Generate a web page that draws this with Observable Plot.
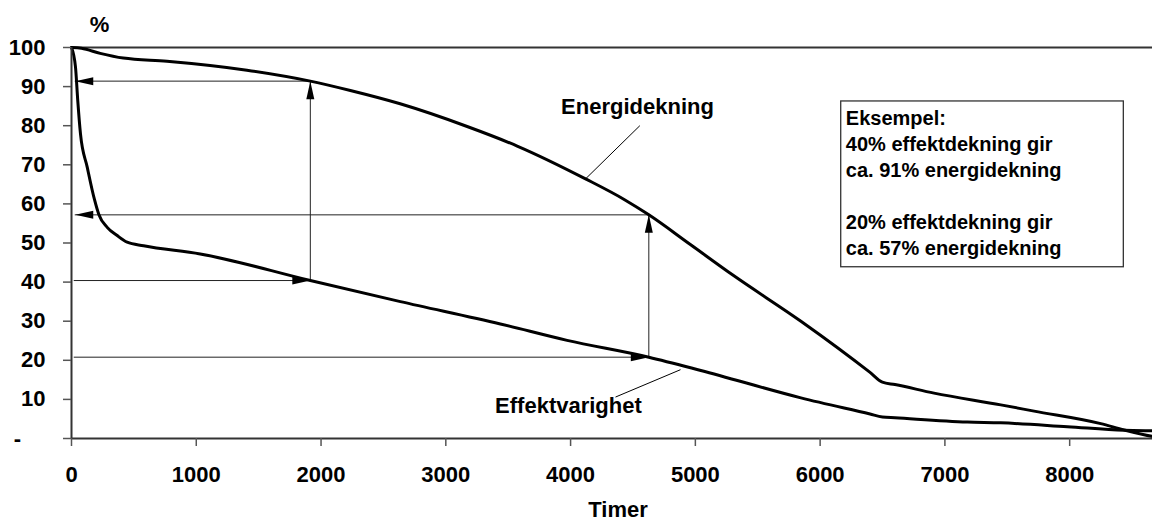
<!DOCTYPE html>
<html><head><meta charset="utf-8">
<script src="https://cdn.jsdelivr.net/npm/d3@7"></script>
<script src="https://cdn.jsdelivr.net/npm/@observablehq/plot@0.6"></script>
<style>
html,body{margin:0;padding:0;overflow:hidden;background:#fff;}
#chart svg{max-width:none !important;height:521px !important;width:1176px !important;}
g[aria-label="x-axis tick"] path, g[aria-label="y-axis tick"] path{stroke:#555;stroke-width:1.5px;}
</style></head><body><div id="chart"></div>
<script>
// Energidekning (energy coverage) curve
const energiTimer = [0, 80, 230, 415, 765, 1406, 1914, 2235, 2634, 3171, 3572, 4120, 4426, 4627, 4960, 5309, 5846, 6400, 6499, 6600, 6913, 7448, 7715, 8249, 8436, 8667, 8760];
const energiPct   = [100, 99.8, 98.5, 97.3, 96.5, 94.2, 91.4, 89.0, 85.6, 79.8, 74.8, 66.4, 61.2, 57.2, 49.6, 41.6, 30.0, 16.9, 14.4, 13.8, 11.6, 8.6, 7.0, 3.8, 2.2, 0.5, 0];
// Effektvarighet (load duration) curve
const effektTimer = [0, 32, 50, 72, 126, 185, 219, 286, 366, 446, 578, 1032, 1914, 2636, 3437, 3972, 4627, 5044, 5846, 6400, 6499, 6600, 7180, 7447, 7982, 8436, 8667, 8760];
const effektPct   = [100, 95, 86.5, 77.9, 69.4, 61, 57.3, 54.0, 51.9, 50.2, 49.3, 47.2, 40.4, 35.0, 29.3, 25.1, 20.8, 17.4, 10.4, 6.25, 5.5, 5.3, 4.2, 4.0, 3.0, 2.1, 1.95, 1.9];

// Example readings (arrows)
const exTimer  = [1914, 4627];
const exEffekt = [40.4, 20.8];
const exEnergi = [91.4, 57.2];
const arrowStart = 22;   // where the rightward arrows leave the axis (hours)
const arrowTip = 30;     // where the leftward arrows end (hours)

// Tick labels
const xTicks = [0, 1000, 2000, 3000, 4000, 5000, 6000, 7000, 8000];
const yTicks = [0, 10, 20, 30, 40, 50, 60, 70, 80, 90, 100];

// Annotation texts
const curveLabels = ["Energidekning", "Effektvarighet"];
const curveLabelX = [4536, 3983];
const curveLabelY = [84.9, 8.2];
const leaderFromX = [4555, 4360], leaderFromY = [80.0, 10.6];
const leaderToX   = [4120, 4881], leaderToY   = [66.4, 17.6];
const boxLines = ["Eksempel:", "40% effektdekning gir", "ca. 91% energidekning", "", "20% effektdekning gir", "ca. 57% energidekning"];
const boxX = [6169, 8434], boxY = [43.8, 86.2];
const boxTextX = 6206, boxTextY = 84.8;

const energi = energiTimer.map((t, i) => ({timer: t, pct: energiPct[i]}));
const effekt = effektTimer.map((t, i) => ({timer: t, pct: effektPct[i]}));

const hRules = [];
const vRules = [];
const heads = [];
exTimer.forEach((t, i) => {
  hRules.push({x1: arrowStart, x2: t, y: exEffekt[i]});
  hRules.push({x1: arrowTip, x2: t, y: exEnergi[i]});
  vRules.push({x: t, y1: exEffekt[i], y2: exEnergi[i]});
  heads.push({x: t, y: exEffekt[i], rot: 90});
  heads.push({x: t, y: exEnergi[i], rot: 0});
  heads.push({x: arrowTip, y: exEnergi[i], rot: -90});
});

const arrowHead = {
  draw(ctx) {
    ctx.moveTo(0, 0);
    ctx.lineTo(-4, 18);
    ctx.lineTo(4, 18);
    ctx.closePath();
  }
};

const labels = curveLabels.map((s, i) => ({text: s, x: curveLabelX[i], y: curveLabelY[i]}));
const leaders = leaderFromX.map((x, i) => ({x1: x, y1: leaderFromY[i], x2: leaderToX[i], y2: leaderToY[i]}));

const chart = Plot.plot({
  width: 1176,
  height: 521,
  marginLeft: 71,
  marginRight: 12,
  marginTop: 47,
  marginBottom: 83,
  x: {domain: [0, 8760]},
  y: {domain: [0, 100]},
  style: {fontFamily: '"Liberation Sans", Arial, Helvetica, sans-serif', fontWeight: "bold", fontSize: "22px", color: "#000", background: "#fff", maxWidth: "none"},
  marks: [
    Plot.ruleY([100], {stroke: "#333", strokeWidth: 2}),
    Plot.ruleX([8760], {stroke: "#333", strokeWidth: 2}),
    Plot.rect([{}], {x1: () => boxX[0], x2: () => boxX[1], y1: () => boxY[0], y2: () => boxY[1], fill: "white", stroke: "#333", strokeWidth: 1.3}),
    Plot.text([boxLines.join("\n")], {x: () => boxTextX, y: () => boxTextY, text: d => d, textAnchor: "start", lineAnchor: "top", lineHeight: 1.3, fontSize: 20}),
    Plot.ruleY(hRules, {x1: "x1", x2: "x2", y: "y", stroke: "#222", strokeWidth: 1}),
    Plot.ruleX(vRules, {x: "x", y1: "y1", y2: "y2", stroke: "#222", strokeWidth: 1}),
    Plot.dot(heads, {x: "x", y: "y", rotate: "rot", symbol: arrowHead, fill: "black", stroke: "none"}),
    Plot.line(energi, {x: "timer", y: "pct", stroke: "black", strokeWidth: 3, curve: "monotone-x"}),
    Plot.line(effekt, {x: "timer", y: "pct", stroke: "black", strokeWidth: 3, curve: "monotone-x"}),
    Plot.link(leaders, {x1: "x1", y1: "y1", x2: "x2", y2: "y2", stroke: "black", strokeWidth: 1}),
    Plot.text(labels, {x: "x", y: "y", text: "text", fontSize: 22}),
    Plot.ruleX([0], {stroke: "#333", strokeWidth: 2}),
    Plot.ruleY([0], {stroke: "#333", strokeWidth: 2}),
    Plot.axisX(xTicks, {tickSize: 8, tickPadding: 20, fontSize: 22, label: null, tickFormat: d => String(d)}),
    Plot.axisY(yTicks, {tickSize: 8, tickPadding: 18, fontSize: 22, label: null,
      tickFormat: d => d === 0 ? "-\u00a0\u00a0\u00a0\u00a0" : String(d)}),
    Plot.text(["%"], {frameAnchor: "top-left", dx: 28, dy: -23, textAnchor: "middle", lineAnchor: "middle", fontSize: 22}),
    Plot.text(["Timer"], {frameAnchor: "bottom", dy: 71, textAnchor: "middle", lineAnchor: "middle", fontSize: 22})
  ]
});
document.getElementById("chart").appendChild(chart);
</script>
</body></html>
